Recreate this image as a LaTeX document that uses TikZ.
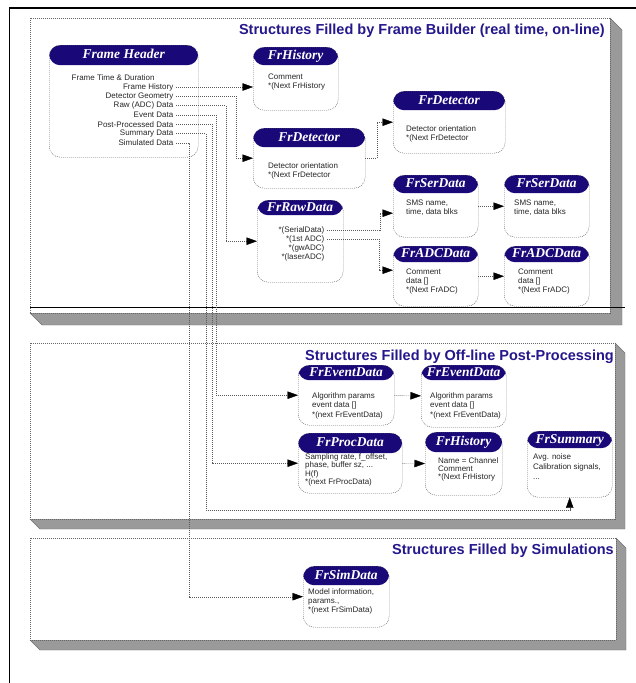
\documentclass[tikz,border=0pt]{standalone}
\usepackage{fontspec}
\setmainfont{Liberation Serif}
\setsansfont{Liberation Sans}
\usetikzlibrary{positioning, calc, arrows.meta}
\definecolor{frnavy}{RGB}{24,8,120}
\definecolor{titlenavy}{RGB}{36,24,140}
\definecolor{slabgray}{RGB}{154,154,154}

\begin{document}
\begin{tikzpicture}[x=1pt, y=-1pt,
    frbox/.style={draw=black!65, dash pattern=on 1pt off 1pt, rounded corners=11pt, fill=white, anchor=north west, inner sep=0pt,
      path picture={\fill[frnavy] (path picture bounding box.north west) rectangle ([yshift=-#1]path picture bounding box.north east);}},
    frbox/.default=18pt,
    frtitle/.style={text=white, font=\rmfamily\bfseries\itshape\fontsize{13.5}{14}\selectfont, inner sep=0pt, text height=9pt, text depth=2pt},
    frtext/.style={font=\sffamily\fontsize{8}{9.3}\selectfont, text=black!85, align=left, inner sep=0pt, anchor=north west},
    hdline/.style={font=\sffamily\fontsize{8}{9.3}\selectfont, text=black!85, inner xsep=2.5pt, inner ysep=0pt},
    conn/.style={draw=black!65, dash pattern=on 1pt off 1pt, -{Triangle[length=10.5pt, width=7.5pt, fill=black, color=black]}},
    slabtitle/.style={font=\sffamily\bfseries\fontsize{14.5}{16}\selectfont, text=titlenavy, anchor=east, inner sep=0pt}]
  \useasboundingbox (0,0) rectangle (636,683);
  % outer frame
  \draw[line width=1.6pt] (9.5,683) -- (9.5,8) -- (636,8);
  % the three slabs
  \foreach \xa/\ya/\xb/\yb/\d in {30/18/610/313/12, 30/343/615/519/10, 30/538/616/640/10} {
    \fill[slabgray, draw=black!55] (\xa,\yb) -- (\xb,\yb) -- (\xb,\ya) -- (\xb+\d,\ya+\d) -- (\xb+\d,\yb+\d) -- (\xa+\d,\yb+\d) -- cycle;
    \draw[black!60, dash pattern=on 1pt off 1pt, fill=white] (\xa,\ya) rectangle (\xb,\yb);
  }
  \draw[line width=1pt] (30,307) -- (625,307);
  \node[slabtitle] (online) at (605,31) {Structures Filled by Frame Builder (real time, on-line)};
  \node[slabtitle] (offline) at (614,357) {Structures Filled by Off-line Post-Processing};
  \node[slabtitle] (simul) at (614,551) {Structures Filled by Simulations};

  % frame header
  \node[frbox=20pt, minimum width=149pt, minimum height=112pt] (fh) at (49,45) {};
  \node[frtitle] (fhT) at ([yshift=-10pt]fh.north) {Frame Header};
  \node[hdline, anchor=west] (ftime) at (69,78) {Frame Time \& Duration};
  \foreach \nm/\txt [count=\i from 0] in {fhist/Frame History, fgeom/Detector Geometry, fraw/Raw (ADC) Data,
      fevent/Event Data, fproc/Post-Processed Data, fsumm/Summary Data, fsim/Simulated Data}
    \node[hdline, anchor=east] (\nm) at (176,87+9.33*\i) {\txt};

  % on-line structures
  \node[frbox, minimum width=85pt, minimum height=63pt] (hist1) at (253,47) {};
  \node[frtitle] (hist1T) at ([yshift=-9pt]hist1.north) {FrHistory};
  \node[frtext, below right=26.5pt and 15pt of hist1.north west] (hist1B) {Comment\\{}*(Next FrHistory};

  \node[frbox=19pt, minimum width=112pt, minimum height=60pt] (det1) at (253,128) {};
  \node[frtitle] (det1T) at ([yshift=-9.5pt]det1.north) {FrDetector};
  \node[frtext, below right=34.5pt and 15pt of det1.north west] (det1B) {Detector orientation\\{}*(Next FrDetector};

  \node[frbox=19pt, minimum width=112pt, minimum height=62pt] (det2) at (393,91) {};
  \node[frtitle] (det2T) at ([yshift=-9.5pt]det2.north) {FrDetector};
  \node[frtext, below right=34.5pt and 13pt of det2.north west] (det2B) {Detector orientation\\{}*(Next FrDetector};

  \node[frbox=15pt, minimum width=86pt, minimum height=82pt] (raw) at (257,200) {};
  \node[frtitle] (rawT) at ([yshift=-7.5pt]raw.north) {FrRawData};
  \foreach \nm/\txt [count=\i from 0] in {rserial/*(SerialData), r1st/*(1st ADC), rgw/*(gwADC), rlaser/*(laserADC)}
    \node[hdline, anchor=east] (\nm) at (327,230+9.3*\i) {\txt};

  \node[frbox, minimum width=85pt, minimum height=62pt] (ser1) at (393,175) {};
  \node[frtitle] (ser1T) at ([yshift=-9pt]ser1.north) {FrSerData};
  \node[frtext, below right=24.5pt and 13pt of ser1.north west] (ser1B) {SMS name,\\time, data blks};

  \node[frbox, minimum width=85pt, minimum height=62pt] (ser2) at (504,175) {};
  \node[frtitle] (ser2T) at ([yshift=-9pt]ser2.north) {FrSerData};
  \node[frtext, below right=24.5pt and 10pt of ser2.north west] (ser2B) {SMS name,\\time, data blks};

  \node[frbox=16pt, minimum width=85pt, minimum height=60pt] (adc1) at (393,246) {};
  \node[frtitle] (adc1T) at ([yshift=-8pt]adc1.north) {FrADCData};
  \node[frtext, below right=22.5pt and 13pt of adc1.north west] (adc1B) {Comment\\data []\\{}*(Next FrADC)};

  \node[frbox=16pt, minimum width=85pt, minimum height=60pt] (adc2) at (504,246) {};
  \node[frtitle] (adc2T) at ([yshift=-8pt]adc2.north) {FrADCData};
  \node[frtext, below right=22.5pt and 14pt of adc2.north west] (adc2B) {Comment\\data []\\{}*(Next FrADC)};

  % off-line structures
  \node[frbox=15pt, minimum width=96pt, minimum height=60pt] (evd1) at (298,365) {};
  \node[frtitle] (evd1T) at ([yshift=-7.5pt]evd1.north) {FrEventData};
  \node[frtext, below right=27.5pt and 14pt of evd1.north west] (evd1B) {Algorithm params\\event data []\\{}*(next FrEventData)};

  \node[frbox=15pt, minimum width=85pt, minimum height=62pt] (evd2) at (421,365) {};
  \node[frtitle] (evd2T) at ([yshift=-7.5pt]evd2.north) {FrEventData};
  \node[frtext, below right=27.5pt and 9pt of evd2.north west] (evd2B) {Algorithm params\\event data []\\{}*(next FrEventData)};

  \node[frbox=20pt, minimum width=104pt, minimum height=60pt] (proc) at (298,433) {};
  \node[frtitle] (procT) at ([yshift=-10pt]proc.north) {FrProcData};
  \node[frtext, font=\sffamily\fontsize{8}{7}\selectfont, below right=20.5pt and 7pt of proc.north west] (procB) {Sampling rate, f\_offset,\\phase, buffer sz, ...\\H(f)\\{}*(next FrProcData)};

  \node[frbox=20pt, minimum width=77pt, minimum height=63pt] (hist2) at (425,432) {};
  \node[frtitle] (hist2T) at ([yshift=-10pt]hist2.north) {FrHistory};
  \node[frtext, font=\sffamily\fontsize{8}{8}\selectfont, below right=25.5pt and 13pt of hist2.north west] (hist2B) {Name = Channel\\Comment\\{}*(Next FrHistory};

  \node[frbox=17pt, minimum width=85pt, minimum height=66pt] (summ) at (527,431) {};
  \node[frtitle] (summT) at ([yshift=-8.5pt]summ.north) {FrSummary};
  \node[frtext, font=\sffamily\fontsize{8}{10}\selectfont, below right=22.5pt and 6pt of summ.north west] (summB) {Avg. noise\\Calibration signals,\\...};

  % simulation structures
  \node[frbox=19pt, minimum width=86pt, minimum height=61pt] (sim) at (303,566) {};
  \node[frtitle] (simT) at ([yshift=-9.5pt]sim.north) {FrSimData};
  \node[frtext, font=\sffamily\fontsize{8}{9}\selectfont, below right=22.5pt and 5pt of sim.north west] (simB) {Model information,\\params.,\\{}*(next FrSimData)};

  % connectors
  \draw[conn] (fhist.east) -- (fhist.east -| hist1.west);
  \draw[conn] (fgeom.east) -- ++(60,0) |- (det1.west);
  \draw[conn] (fraw.east) -- ++(50,0) |- (raw.west);
  \draw[conn] (fevent.east) -- ++(40,0) |- (evd1.west);
  \draw[conn] (fproc.east) -- ++(36,0) |- (proc.west);
  \coordinate (sumturn) at (206,510);
  \draw[conn] (fsumm.east) -| (sumturn) -| (summ.south);
  \draw[conn] (fsim.east) -- ++(13,0) |- (sim.west);
  \draw[conn] (det1.east) -- ++(12,0) |- (det2.west);
  \draw[conn] (rserial.east) -- ++(53,0) |- ([yshift=-7pt]ser1.west);
  \draw[conn] (r1st.east) -- ++(52,0) |- ([yshift=6pt]adc1.west);
  \draw[conn] (ser1) -- (ser2);
  \draw[conn] (adc1) -- (adc2);
  \draw[conn] (evd1) -- (evd2);
  \draw[conn] (proc) -- (hist2);
\end{tikzpicture}
\end{document}
